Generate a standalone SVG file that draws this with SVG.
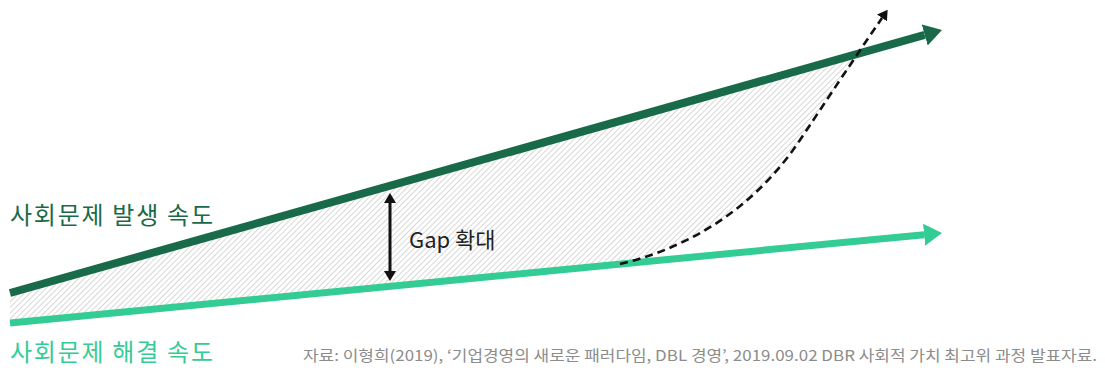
<svg xmlns="http://www.w3.org/2000/svg" width="1105" height="370" viewBox="0 0 1105 370">
  <style>
    .kr { font-family: "Noto Sans CJK KR", "Noto Sans", sans-serif; }
    .label { font-size: 24px; }
    .dark { fill: #186a49; }
    .light { fill: #33cc94; }
    .src { font-size: 15px; fill: #8c8c8c; }
  </style>
  <defs>
    <pattern id="hatch" patternUnits="userSpaceOnUse" width="4" height="4" patternTransform="rotate(45)">
      <line x1="0" y1="0" x2="0" y2="4" stroke="#b6b6b6" stroke-width="1.1"/>
    </pattern>
    <marker id="headDark" markerUnits="userSpaceOnUse" markerWidth="20" markerHeight="22" refX="0" refY="11" orient="auto">
      <path d="M0,0 L18,11 L0,22 Z" fill="#186a49"/>
    </marker>
    <marker id="headLight" markerUnits="userSpaceOnUse" markerWidth="20" markerHeight="22" refX="0" refY="11" orient="auto">
      <path d="M0,0 L18,11 L0,22 Z" fill="#33cc94"/>
    </marker>
    <marker id="headBlack" markerUnits="userSpaceOnUse" markerWidth="12" markerHeight="12" refX="0" refY="6" orient="auto-start-reverse">
      <path d="M0,0 L10,6 L0,12 Z" fill="#111"/>
    </marker>
  </defs>

  <g id="gap-area">
    <path d="M620,264 C700,245 760,200 800,140 C825,102 845,73 861,53 L10,293 L10,323 Z" fill="url(#hatch)"/>
  </g>

  <g id="connectors">
    <path id="problem-line" d="M10,293 L924.7,34.9" stroke="#186a49" stroke-width="8" fill="none" marker-end="url(#headDark)"/>
    <path id="solution-line" d="M10,323 L924.1,234.7" stroke="#33cc94" stroke-width="7" fill="none" marker-end="url(#headLight)"/>
    <path id="dashed-curve" d="M620,264 C700,245 760,200 800,140 C840,80 860,50 882,18" stroke="#111" stroke-width="2.6" stroke-dasharray="8 5" fill="none" marker-end="url(#headBlack)"/>
    <path id="gap-arrow" d="M390,203 L390,271" stroke="#111" stroke-width="3" fill="none" marker-start="url(#headBlack)" marker-end="url(#headBlack)"/>
  </g>

  <g id="label-problem">
    <text class="kr label dark" x="10" y="224" textLength="203" lengthAdjust="spacing">사회문제 발생 속도</text>
  </g>
  <g id="label-solution">
    <text class="kr label light" x="10" y="361" textLength="203" lengthAdjust="spacing">사회문제 해결 속도</text>
  </g>
  <g id="label-gap">
    <text class="kr" x="409" y="248" font-size="22" fill="#222">Gap 확대</text>
  </g>
  <g id="source">
    <text class="kr src" x="303" y="361" textLength="794" lengthAdjust="spacingAndGlyphs">자료: 이형희(2019), ‘기업경영의 새로운 패러다임, DBL 경영’, 2019.09.02 DBR 사회적 가치 최고위 과정 발표자료.</text>
  </g>
</svg>
